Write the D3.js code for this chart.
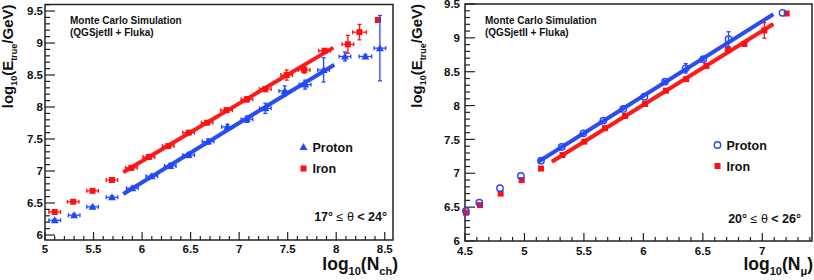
<!DOCTYPE html>
<html><head><meta charset="utf-8">
<script src="https://cdn.jsdelivr.net/npm/d3@7"></script>
<style>
body{margin:0;background:#fff}
svg{display:block}
text{font-family:"Liberation Sans",Arial,Helvetica,sans-serif;font-weight:bold;fill:#111}
</style>
</head><body>
<svg id="c" width="814" height="280"></svg>
<script>
// ---------- Left panel data: log10(Nch) ----------
const nchProtonX    = [5.10,5.30,5.49,5.69,5.90,6.10,6.29,6.48,6.68,6.88,7.08,7.27,7.47,7.68,7.87,8.09,8.30,8.45];
const nchProtonY    = [6.23,6.31,6.44,6.59,6.73,6.92,7.08,7.25,7.46,7.69,7.81,7.98,8.25,8.35,8.58,8.79,8.79,8.92];
const nchProtonXErr = [0.06,0.06,0.06,0.06,0.06,0.06,0.06,0.06,0.06,0.06,0.06,0.06,0.06,0.06,0.06,0.06,0.065,0.06];
const nchProtonYErr = [0.02,0.02,0.02,0.02,0.03,0.03,0.04,0.04,0.04,0.04,0.05,0.08,0.08,0.07,0.19,0.07,0.03,0.51];
const nchIronX      = [5.10,5.29,5.49,5.69,5.89,6.07,6.27,6.48,6.67,6.87,7.08,7.27,7.49,7.67,7.88,8.12,8.24,8.43];
const nchIronY      = [6.36,6.52,6.69,6.86,7.05,7.22,7.39,7.60,7.755,7.95,8.12,8.28,8.50,8.58,8.88,8.98,9.17,9.36];
const nchIronXErr   = [0.06,0.06,0.06,0.06,0.06,0.06,0.06,0.06,0.06,0.06,0.06,0.06,0.06,0.06,0.06,0.06,0.07,0];
const nchIronYErr   = [0.02,0.02,0.02,0.02,0.03,0.03,0.03,0.03,0.03,0.03,0.04,0.04,0.08,0.05,0.03,0.14,0.12,0];
// fits: [slope, intercept, xStart, xEnd]
const nchProtonFit  = [0.93, 1.24, 5.806, 7.98];
const nchIronFit    = [0.90, 1.755, 5.806, 7.97];
const nchXTicks     = [5,5.5,6,6.5,7,7.5,8,8.5];
const nchYTicks     = [6,6.5,7,7.5,8,8.5,9,9.5];

// ---------- Right panel data: log10(Nmu) ----------
const nmuProtonX    = [4.508,4.62,4.794,4.97,5.139,5.313,5.495,5.663,5.831,6.008,6.182,6.356,6.504,6.716,7.17];
const nmuProtonY    = [6.443,6.566,6.78,6.96,7.186,7.39,7.59,7.777,7.95,8.13,8.353,8.55,8.684,8.98,9.37];
const nmuProtonYErr = [0,0,0,0,0,0,0,0,0,0,0.02,0.07,0.02,0.11,0];
const nmuIronX      = [4.508,4.626,4.80,4.977,5.139,5.32,5.503,5.677,5.846,6.014,6.19,6.36,6.53,6.71,6.85,7.017,7.205];
const nmuIronY      = [6.418,6.53,6.70,6.90,7.07,7.27,7.467,7.665,7.846,8.024,8.22,8.39,8.585,8.83,8.91,9.11,9.36];
const nmuIronYErr   = [0,0,0,0,0,0,0,0,0,0,0,0,0,0.03,0.03,0.115,0];
const nmuProtonFit  = [1.103, 1.526, 5.117, 7.093];
const nmuIronFit    = [1.092, 1.459, 5.23, 7.093];
const nmuXTicks     = [4.5,5,5.5,6,6.5,7];
const nmuYTicks     = [6,6.5,7,7.5,8,8.5,9,9.5];

const BLUE = "#2148ff", RED = "#ff1010", LINE_BLUE = "#2a4cf5", LINE_RED = "#ff1a1a";

const svg = d3.select("#c");

function panel(cfg){
  const g = svg.append("g");
  const x = d3.scaleLinear().domain(cfg.xDomain).range([cfg.left, cfg.right]);
  const y = d3.scaleLinear().domain(cfg.yDomain).range([cfg.bottom, cfg.top]);

  const xMinor = d3.range(Math.ceil(cfg.xDomain[0]*10), Math.floor(cfg.xDomain[1]*10)+1).map(v=>v/10);
  const yMinor = d3.range(Math.ceil(cfg.yDomain[0]*10), Math.floor(cfg.yDomain[1]*10)+1).map(v=>v/10);
  const isMajor = v => Math.abs(v*2 - Math.round(v*2)) < 1e-6;
  g.selectAll(".xt").data(xMinor).join("line")
    .attr("x1", d=>x(d)).attr("x2", d=>x(d))
    .attr("y1", cfg.bottom).attr("y2", d=> cfg.bottom - (isMajor(d)?8:4))
    .attr("stroke","#222").attr("stroke-width",1.2);
  g.selectAll(".yt").data(yMinor).join("line")
    .attr("y1", d=>y(d)).attr("y2", d=>y(d))
    .attr("x1", cfg.left).attr("x2", d=> cfg.left + (isMajor(d)?10:5))
    .attr("stroke","#222").attr("stroke-width",1.2);

  g.selectAll(".xl").data(cfg.xTicks).join("text")
    .attr("x", d=>x(d)).attr("y", cfg.xLabelY).attr("text-anchor","middle")
    .attr("font-size", 11.5).text(d=>d3.format("~g")(d));
  g.selectAll(".yl").data(cfg.yTicks).join("text")
    .attr("x", cfg.yLabelX).attr("y", d=>y(d)).attr("dy","0.36em").attr("text-anchor","end")
    .attr("font-size", 11.5).text(d=>d3.format("~g")(d));

  g.append("rect").attr("x",cfg.left).attr("y",cfg.top)
    .attr("width",cfg.right-cfg.left).attr("height",cfg.bottom-cfg.top)
    .attr("fill","none").attr("stroke","#222").attr("stroke-width",1.5);

  const line = d3.line().x(d=>x(d[0])).y(d=>y(d[1]));
  cfg.fits.forEach(f=>{
    const [m,b,x0,x1] = f.p;
    g.append("path").attr("d", line([[x0,m*x0+b],[x1,m*x1+b]]))
      .attr("stroke", f.color).attr("stroke-width",4).attr("fill","none");
  });

  cfg.series.forEach(s=>{
    const pts = s.x.map((v,i)=>({x:v,y:s.y[i],ex:s.xe?s.xe[i]:0,ey:s.ye?s.ye[i]:0}));
    const eg = g.append("g").attr("stroke", s.color).attr("stroke-width",1.3);
    pts.forEach(p=>{
      if(p.ex>0){
        eg.append("line").attr("x1",x(p.x-p.ex)).attr("x2",x(p.x+p.ex)).attr("y1",y(p.y)).attr("y2",y(p.y));
        [p.x-p.ex,p.x+p.ex].forEach(v=>eg.append("line").attr("x1",x(v)).attr("x2",x(v)).attr("y1",y(p.y)-2).attr("y2",y(p.y)+2));
      }
      if(p.ey>0){
        eg.append("line").attr("x1",x(p.x)).attr("x2",x(p.x)).attr("y1",y(p.y-p.ey)).attr("y2",y(p.y+p.ey));
        [p.y-p.ey,p.y+p.ey].forEach(v=>eg.append("line").attr("x1",x(p.x)-2).attr("x2",x(p.x)+2).attr("y1",y(v)).attr("y2",y(v)));
      }
    });
    drawMarkers(g, pts.map(p=>[x(p.x),y(p.y)]), s.marker, s.color);
  });

  cfg.legend.forEach((L,i)=>{
    drawMarkers(g, [[cfg.legX, cfg.legY + i*cfg.legDy]], L.marker, L.color);
    g.append("text").attr("x", cfg.legX+9).attr("y", cfg.legY + i*cfg.legDy).attr("dy","0.36em")
      .attr("font-size",12.5).text(L.label);
  });

  g.append("text").attr("x",cfg.annX).attr("y",23.5).attr("font-size",10).text("Monte Carlo Simulation");
  g.append("text").attr("x",cfg.annX).attr("y",35.5).attr("font-size",10).text("(QGSjetII + Fluka)");

  const t = g.append("text").attr("x",cfg.thetaX).attr("y",cfg.thetaY).attr("text-anchor","end").attr("font-size",12.5);
  t.append("tspan").text(cfg.theta[0]+"°");
  t.append("tspan").attr("font-weight","normal").text(" ≤ θ ");
  t.append("tspan").text("< "+cfg.theta[1]+"°");

  const xt = g.append("text").attr("x",cfg.xTitleX).attr("y",cfg.xTitleY).attr("text-anchor","end").attr("font-size",17.5);
  xt.append("tspan").text("log");
  xt.append("tspan").attr("font-size",11).attr("dy",5).text("10");
  xt.append("tspan").attr("dy",-5).text("(N");
  xt.append("tspan").attr("font-size",11).attr("dy",5).text(cfg.xSub);
  xt.append("tspan").attr("dy",-5).text(")");

  const yt = g.append("text").attr("transform",`translate(${cfg.yTitleX},${cfg.top})rotate(-90)`)
    .attr("text-anchor","end").attr("font-size",15);
  yt.append("tspan").text("log");
  yt.append("tspan").attr("font-size",9).attr("dy",4).text("10");
  yt.append("tspan").attr("dy",-4).text("(E");
  yt.append("tspan").attr("font-size",9).attr("dy",4).text("true");
  yt.append("tspan").attr("dy",-4).text("/GeV)");
}

function drawMarkers(g, pts, type, color){
  if(type==="square"){
    g.selectAll(null).data(pts).join("rect")
      .attr("x",d=>d[0]-3).attr("y",d=>d[1]-3).attr("width",6).attr("height",6).attr("fill",color);
  } else if(type==="triangle"){
    g.selectAll(null).data(pts).join("path")
      .attr("d",d=>`M${d[0]-4},${d[1]+3}L${d[0]+4},${d[1]+3}L${d[0]},${d[1]-4}Z`).attr("fill",color);
  } else {
    g.selectAll(null).data(pts).join("circle")
      .attr("cx",d=>d[0]).attr("cy",d=>d[1]).attr("r",3.2)
      .attr("fill","none").attr("stroke",color).attr("stroke-width",1.4);
  }
}

panel({
  left:45, right:393, top:4.5, bottom:240,
  xDomain:[5, 8.585], yDomain:[5.922, 9.602],
  xTicks:nchXTicks, yTicks:nchYTicks,
  xLabelY:252.5, yLabelX:43,
  fits:[{p:nchIronFit,color:LINE_RED},{p:nchProtonFit,color:LINE_BLUE}],
  series:[
    {x:nchIronX,y:nchIronY,xe:nchIronXErr,ye:nchIronYErr,marker:"square",color:RED},
    {x:nchProtonX,y:nchProtonY,xe:nchProtonXErr,ye:nchProtonYErr,marker:"triangle",color:BLUE}
  ],
  legend:[{label:"Proton",marker:"triangle",color:BLUE},{label:"Iron",marker:"square",color:RED}],
  legX:303.5, legY:147, legDy:21.5,
  annX:70,
  theta:["17","24"], thetaX:387, thetaY:221,
  xTitleX:398, xTitleY:270, xSub:"ch",
  yTitleX:12.5
});

panel({
  left:465, right:812, top:4, bottom:241,
  xDomain:[4.5, 7.418], yDomain:[6, 9.5],
  xTicks:nmuXTicks, yTicks:nmuYTicks,
  xLabelY:254.5, yLabelX:460,
  fits:[{p:nmuIronFit,color:LINE_RED},{p:nmuProtonFit,color:LINE_BLUE}],
  series:[
    {x:nmuIronX,y:nmuIronY,ye:nmuIronYErr,marker:"square",color:RED},
    {x:nmuProtonX,y:nmuProtonY,ye:nmuProtonYErr,marker:"circle",color:BLUE}
  ],
  legend:[{label:"Proton",marker:"circle",color:BLUE},{label:"Iron",marker:"square",color:RED}],
  legX:717.5, legY:145, legDy:21,
  annX:485,
  theta:["20","26"], thetaX:801, thetaY:223,
  xTitleX:813, xTitleY:270, xSub:"μ",
  yTitleX:421.5
});
</script>
</body></html>
